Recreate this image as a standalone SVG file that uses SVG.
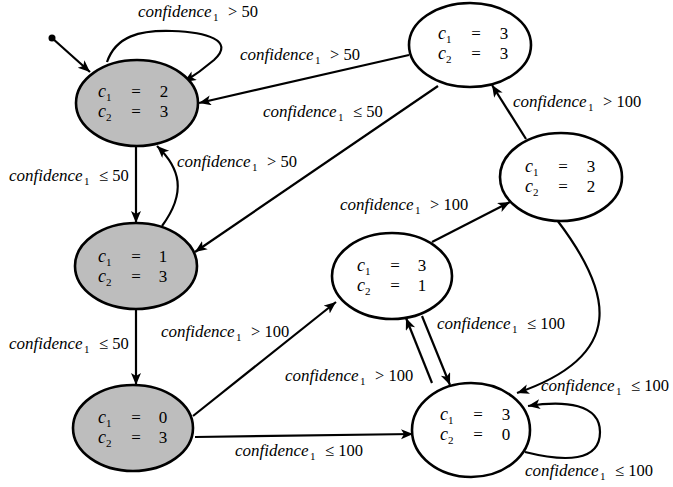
<svg xmlns="http://www.w3.org/2000/svg" width="673" height="487" viewBox="0 0 673 487">
<style>
.n ellipse{stroke:#000;stroke-width:2.6}
.g{fill:#bdbdbd}
.w{fill:#fff}
.e path,.e line{fill:none;stroke:#000;stroke-width:2.2;marker-end:url(#ah)}
text{font-family:"Liberation Serif","DejaVu Serif",serif;font-size:16.5px;fill:#000}
.it{font-style:italic}
.cf{font-style:italic;font-size:17px}
.sb{font-size:11px}
.nt{font-size:17px}
.nt .it{font-size:18px}
</style>
<defs>
<marker id="ah" markerUnits="userSpaceOnUse" markerWidth="14" markerHeight="12" refX="12" refY="5" orient="auto">
<path d="M0,0 L12,5 L0,10 L3,5 z" fill="#000"/>
</marker>
</defs>
<g class="e" id="connectors">
<circle cx="52" cy="38" r="3.5" fill="#000"/>
<line x1="52" y1="38" x2="90" y2="72"/>
<path d="M107,62 C116,36 140,30 172,31 C205,32 236,40 214,60 Q200,72 184,82"/>
<line x1="409" y1="55" x2="199" y2="103"/>
<line x1="438" y1="86" x2="195" y2="252"/>
<line x1="136" y1="146" x2="136" y2="223"/>
<path d="M162,226 C187,192 180,168 157,146"/>
<line x1="136" y1="309" x2="136" y2="385"/>
<line x1="193" y1="416" x2="336" y2="302"/>
<line x1="195" y1="437" x2="413" y2="434"/>
<line x1="432" y1="242" x2="510" y2="202"/>
<line x1="526" y1="139" x2="492" y2="85"/>
<path d="M557,220 C612,292 628,355 517,393"/>
<line x1="432" y1="383" x2="406" y2="318"/>
<line x1="422" y1="316" x2="450" y2="385"/>
<path d="M525,452 C565,462 600,462 600,432 C600,404 565,400 528,406"/>
</g>
<g class="n" id="s23">
<ellipse class="g" cx="137" cy="103" rx="61" ry="43"/>
<text class="nt"><tspan x="98" y="97" class="it">c</tspan><tspan class="sb" dy="4">1</tspan><tspan x="136" y="97" text-anchor="middle">=</tspan><tspan x="164" y="97" text-anchor="middle">2</tspan></text>
<text class="nt"><tspan x="98" y="117" class="it">c</tspan><tspan class="sb" dy="4">2</tspan><tspan x="136" y="117" text-anchor="middle">=</tspan><tspan x="164" y="117" text-anchor="middle">3</tspan></text>
</g>
<g class="n" id="s13">
<ellipse class="g" cx="136" cy="266" rx="61" ry="43"/>
<text class="nt"><tspan x="98" y="262" class="it">c</tspan><tspan class="sb" dy="4">1</tspan><tspan x="136" y="262" text-anchor="middle">=</tspan><tspan x="163" y="262" text-anchor="middle">1</tspan></text>
<text class="nt"><tspan x="98" y="282" class="it">c</tspan><tspan class="sb" dy="4">2</tspan><tspan x="136" y="282" text-anchor="middle">=</tspan><tspan x="163" y="282" text-anchor="middle">3</tspan></text>
</g>
<g class="n" id="s03">
<ellipse class="g" cx="133" cy="428" rx="60" ry="43"/>
<text class="nt"><tspan x="98" y="423" class="it">c</tspan><tspan class="sb" dy="4">1</tspan><tspan x="136" y="423" text-anchor="middle">=</tspan><tspan x="163" y="423" text-anchor="middle">0</tspan></text>
<text class="nt"><tspan x="98" y="443" class="it">c</tspan><tspan class="sb" dy="4">2</tspan><tspan x="136" y="443" text-anchor="middle">=</tspan><tspan x="163" y="443" text-anchor="middle">3</tspan></text>
</g>
<g class="n" id="s33">
<ellipse class="w" cx="470" cy="45" rx="61" ry="42"/>
<text class="nt"><tspan x="438" y="39" class="it">c</tspan><tspan class="sb" dy="4">1</tspan><tspan x="476" y="39" text-anchor="middle">=</tspan><tspan x="504" y="39" text-anchor="middle">3</tspan></text>
<text class="nt"><tspan x="438" y="59" class="it">c</tspan><tspan class="sb" dy="4">2</tspan><tspan x="476" y="59" text-anchor="middle">=</tspan><tspan x="504" y="59" text-anchor="middle">3</tspan></text>
</g>
<g class="n" id="s32">
<ellipse class="w" cx="561" cy="177" rx="61" ry="44"/>
<text class="nt"><tspan x="525" y="172" class="it">c</tspan><tspan class="sb" dy="4">1</tspan><tspan x="563" y="172" text-anchor="middle">=</tspan><tspan x="591" y="172" text-anchor="middle">3</tspan></text>
<text class="nt"><tspan x="525" y="192" class="it">c</tspan><tspan class="sb" dy="4">2</tspan><tspan x="563" y="192" text-anchor="middle">=</tspan><tspan x="591" y="192" text-anchor="middle">2</tspan></text>
</g>
<g class="n" id="s31">
<ellipse class="w" cx="392" cy="276" rx="60" ry="43"/>
<text class="nt"><tspan x="357" y="271" class="it">c</tspan><tspan class="sb" dy="4">1</tspan><tspan x="395" y="271" text-anchor="middle">=</tspan><tspan x="422" y="271" text-anchor="middle">3</tspan></text>
<text class="nt"><tspan x="357" y="291" class="it">c</tspan><tspan class="sb" dy="4">2</tspan><tspan x="395" y="291" text-anchor="middle">=</tspan><tspan x="422" y="291" text-anchor="middle">1</tspan></text>
</g>
<g class="n" id="s30">
<ellipse class="w" cx="471" cy="430" rx="59" ry="47"/>
<text class="nt"><tspan x="440" y="420" class="it">c</tspan><tspan class="sb" dy="4">1</tspan><tspan x="478" y="420" text-anchor="middle">=</tspan><tspan x="506" y="420" text-anchor="middle">3</tspan></text>
<text class="nt"><tspan x="440" y="440" class="it">c</tspan><tspan class="sb" dy="4">2</tspan><tspan x="478" y="440" text-anchor="middle">=</tspan><tspan x="506" y="440" text-anchor="middle">0</tspan></text>
</g>
<g id="labels">
<text><tspan x="138" y="17" class="cf">confidence</tspan><tspan class="sb" x="213" dy="4">1</tspan><tspan x="228" y="17">&gt; 50</tspan></text>
<text><tspan x="240" y="60" class="cf">confidence</tspan><tspan class="sb" x="315" dy="4">1</tspan><tspan x="330" y="60">&gt; 50</tspan></text>
<text><tspan x="263" y="117" class="cf">confidence</tspan><tspan class="sb" x="338" dy="4">1</tspan><tspan x="353" y="117">≤ 50</tspan></text>
<text><tspan x="177" y="167" class="cf">confidence</tspan><tspan class="sb" x="252" dy="4">1</tspan><tspan x="267" y="167">&gt; 50</tspan></text>
<text><tspan x="9" y="181" class="cf">confidence</tspan><tspan class="sb" x="84" dy="4">1</tspan><tspan x="99" y="181">≤ 50</tspan></text>
<text><tspan x="340" y="210" class="cf">confidence</tspan><tspan class="sb" x="415" dy="4">1</tspan><tspan x="430" y="210">&gt; 100</tspan></text>
<text><tspan x="513" y="107" class="cf">confidence</tspan><tspan class="sb" x="588" dy="4">1</tspan><tspan x="603" y="107">&gt; 100</tspan></text>
<text><tspan x="9" y="349" class="cf">confidence</tspan><tspan class="sb" x="84" dy="4">1</tspan><tspan x="99" y="349">≤ 50</tspan></text>
<text><tspan x="161" y="337" class="cf">confidence</tspan><tspan class="sb" x="236" dy="4">1</tspan><tspan x="251" y="337">&gt; 100</tspan></text>
<text><tspan x="437" y="329" class="cf">confidence</tspan><tspan class="sb" x="512" dy="4">1</tspan><tspan x="527" y="329">≤ 100</tspan></text>
<text><tspan x="285" y="381" class="cf">confidence</tspan><tspan class="sb" x="360" dy="4">1</tspan><tspan x="375" y="381">&gt; 100</tspan></text>
<text><tspan x="541" y="391" class="cf">confidence</tspan><tspan class="sb" x="616" dy="4">1</tspan><tspan x="631" y="391">≤ 100</tspan></text>
<text><tspan x="525" y="476" class="cf">confidence</tspan><tspan class="sb" x="600" dy="4">1</tspan><tspan x="615" y="476">≤ 100</tspan></text>
<text><tspan x="235" y="456" class="cf">confidence</tspan><tspan class="sb" x="310" dy="4">1</tspan><tspan x="325" y="456">≤ 100</tspan></text>
</g>
</svg>
